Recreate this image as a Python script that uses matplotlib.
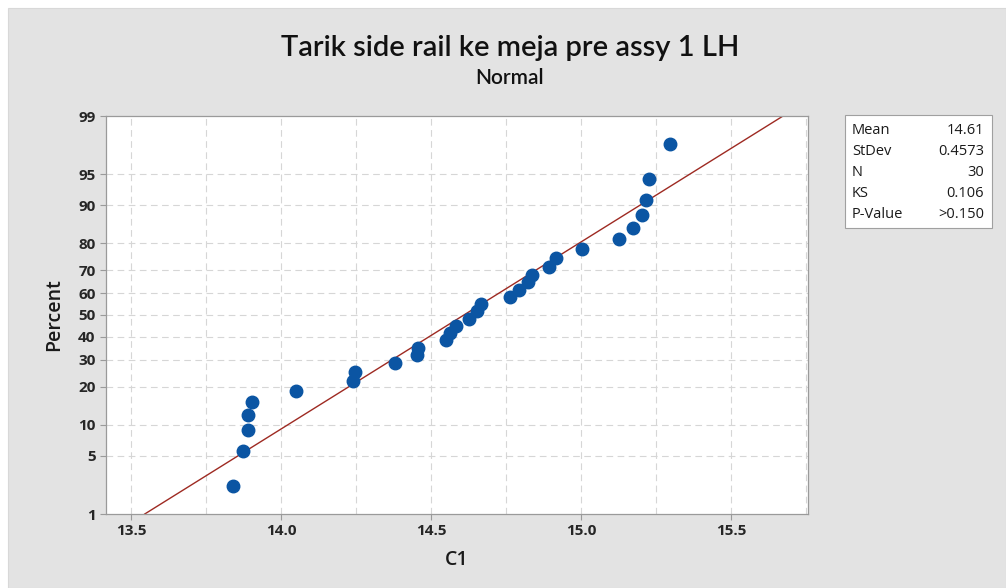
import matplotlib
matplotlib.use("Agg")
import matplotlib.pyplot as plt
from matplotlib.patches import Rectangle
from statistics import NormalDist
import numpy as np

# data C1 (sorted)
c1 = [13.839, 13.874, 13.891, 13.891, 13.903, 14.050, 14.241, 14.247, 14.380, 14.452,
      14.458, 14.552, 14.563, 14.583, 14.627, 14.654, 14.666, 14.763, 14.794, 14.824,
      14.838, 14.894, 14.917, 15.004, 15.128, 15.174, 15.202, 15.216, 15.227, 15.297]
mean_v, sd_v = 14.61, 0.4573
pct_ticks = [1, 5, 10, 20, 30, 40, 50, 60, 70, 80, 90, 95, 99]
x_ticks = [13.5, 14.0, 14.5, 15.0, 15.5]
stats_lbl = ["Mean", "StDev", "N", "KS", "P-Value"]
stats_val = ["14.61", "0.4573", "30", "0.106", ">0.150"]

nd = NormalDist()
n = len(c1)
# median ranks (Minitab style)
z_pts = [nd.inv_cdf((i + 1 - 0.3) / (n + 0.4)) for i in range(n)]
z_ticks = [nd.inv_cdf(p / 100) for p in pct_ticks]

W, H = 1006, 588
fig = plt.figure(figsize=(W / 100, H / 100), dpi=100)
fig.patch.set_facecolor("white")
fig.patches.append(Rectangle((8 / W, 0), 1 - 8 / W, 1 - 8 / H, transform=fig.transFigure,
                             facecolor="#E3E3E3", edgecolor="#D8D8D8", lw=0.8, zorder=-5))
TFONT = ["Lato", "DejaVu Sans"]
FONT = ["Open Sans", "DejaVu Sans"]

ax = fig.add_axes([106 / W, 1 - 514 / H, 702 / W, 398 / H])
ax.set_zorder(5)
ax.set_facecolor("white")
ax.set_xlim(13.417, 15.757)
ax.set_ylim(z_ticks[0], z_ticks[-1])

for xv in np.arange(13.5, 15.76, 0.25):
    ax.axvline(xv, color="#D6D6D6", lw=0.8, ls=(0, (6, 4)), zorder=1)
for zv in z_ticks[1:-1]:
    ax.axhline(zv, color="#D6D6D6", lw=0.8, ls=(0, (6, 4)), zorder=1)

# fitted line
zl = np.array([z_ticks[0], z_ticks[-1]])
ax.plot(mean_v + sd_v * zl, zl, color="#9E2A22", lw=1.0, zorder=2)
ax.plot(c1, z_pts, "o", ms=9, color="#0B55A3", mec="#0B55A3", zorder=3)

ax.set_xticks(x_ticks)
ax.set_xticklabels([f"{v:.1f}" for v in x_ticks])
ax.set_yticks(z_ticks)
ax.set_yticklabels([str(p) for p in pct_ticks])
for s in ax.spines.values():
    s.set_color("#9A9A9A")
    s.set_linewidth(0.9)
ax.tick_params(colors="#9A9A9A", length=4, width=0.8, labelcolor="#262626", labelsize=11)
for t in ax.get_xticklabels() + ax.get_yticklabels():
    t.set_family(FONT)
    t.set_fontweight("bold")

ax.set_xlabel("C1", fontsize=14, family=FONT, fontweight="semibold", color="#1A1A1A", labelpad=8)
ax.set_ylabel("Percent", fontsize=14, family=FONT, fontweight="semibold", color="#1A1A1A",
              labelpad=10)

fig.text(510 / W, 1 - 48 / H, "Tarik side rail ke meja pre assy 1 LH", ha="center", va="center",
         fontsize=21, family=TFONT, fontweight="semibold", color="#111111")
fig.text(510 / W, 1 - 78 / H, "Normal", ha="center", va="center",
         fontsize=15, family=TFONT, fontweight="semibold", color="#111111")

# stats box
fig.patches.append(Rectangle((845 / W, 1 - 228 / H), 147 / W, 113 / H, transform=fig.transFigure,
                             facecolor="white", edgecolor="#A0A0A0", lw=0.8, zorder=1))
for k, (lb, vv) in enumerate(zip(stats_lbl, stats_val)):
    yy = 1 - (131 + k * 20.8) / H
    fig.text(852 / W, yy, lb, ha="left", va="center", fontsize=10.5, family=FONT, color="#1A1A1A")
    fig.text(984 / W, yy, vv, ha="right", va="center", fontsize=10.5, family=FONT, color="#1A1A1A")

fig.savefig("out.png", dpi=100, facecolor="white")
